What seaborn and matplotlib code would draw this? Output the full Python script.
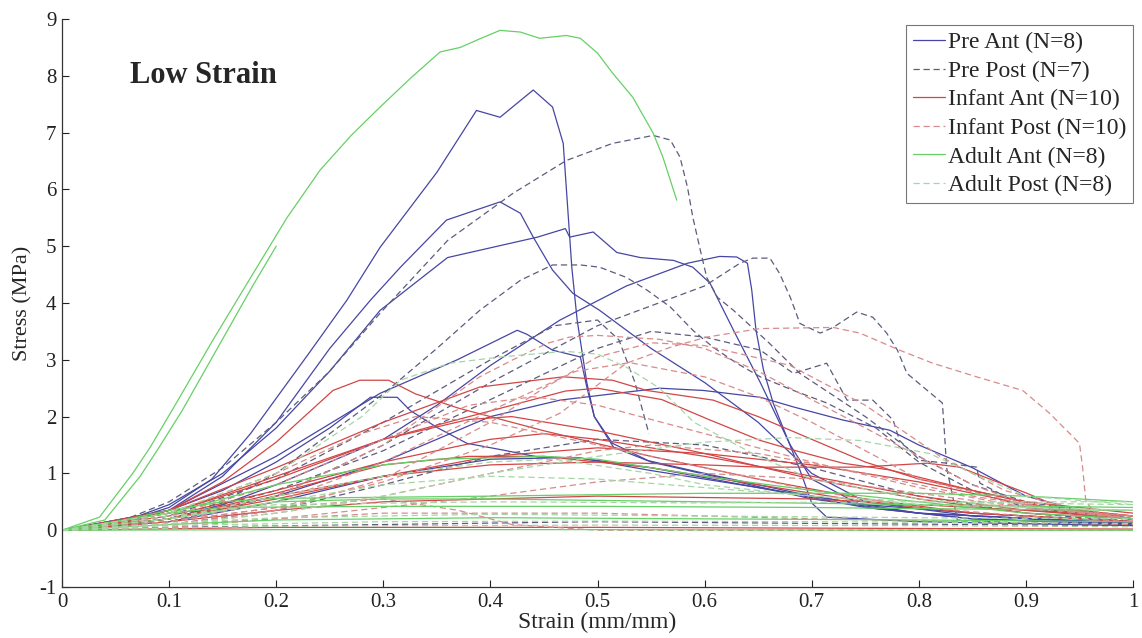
import matplotlib
matplotlib.use("Agg")
import matplotlib.pyplot as plt
import pandas as pd
import seaborn as sns

# ---- stress-strain curves, one (strain, stress) pair of lists per specimen ----
pre_ant = [
    ([0, 0.05, 0.10, 0.14, 0.176, 0.23, 0.266, 0.297, 0.35, 0.387, 0.409, 0.44, 0.458, 0.468, 0.476, 0.481, 0.49, 0.497, 0.514, 0.55, 0.62, 0.70, 0.80, 1.0],
     [0, 0.1, 0.4, 0.9, 1.7, 3.1, 4.05, 4.98, 6.3, 7.39, 7.27, 7.75, 7.45, 6.81, 4.63, 3.7, 2.6, 2.0, 1.53, 1.2, 0.9, 0.55, 0.3, 0.12]),
    ([0, 0.10, 0.15, 0.20, 0.25, 0.288, 0.316, 0.359, 0.409, 0.428, 0.44, 0.458, 0.477, 0.502, 0.55, 0.60, 0.65, 0.70, 0.75, 0.85, 1.0],
     [0, 0.35, 0.95, 1.9, 3.2, 4.05, 4.63, 5.46, 5.78, 5.58, 5.16, 4.58, 4.17, 3.87, 3.2, 2.6, 1.9, 1.0, 0.5, 0.25, 0.1]),
    ([0, 0.05, 0.10, 0.15, 0.20, 0.25, 0.297, 0.36, 0.444, 0.47, 0.474, 0.496, 0.518, 0.54, 0.571, 0.589, 0.605, 0.627, 0.652, 0.68, 0.70, 0.75, 0.85, 1.0],
     [0, 0.1, 0.45, 1.0, 1.8, 2.8, 3.87, 4.8, 5.16, 5.31, 5.16, 5.25, 4.89, 4.8, 4.75, 4.63, 4.35, 3.52, 2.6, 1.5, 0.9, 0.4, 0.2, 0.1]),
    ([0, 0.10, 0.15, 0.20, 0.25, 0.30, 0.35, 0.40, 0.465, 0.527, 0.584, 0.614, 0.63, 0.64, 0.644, 0.648, 0.655, 0.664, 0.689, 0.70, 0.714, 0.80, 1.0],
     [0, 0.2, 0.45, 0.8, 1.2, 1.6, 2.2, 2.9, 3.7, 4.3, 4.7, 4.82, 4.81, 4.7, 4.23, 3.52, 2.82, 2.24, 1.06, 0.48, 0.23, 0.15, 0.08]),
    ([0, 0.10, 0.20, 0.297, 0.369, 0.425, 0.434, 0.458, 0.484, 0.49, 0.497, 0.515, 0.546, 0.60, 0.70, 0.80, 1.0],
     [0, 0.35, 1.3, 2.41, 3.0, 3.52, 3.45, 3.17, 3.05, 2.52, 2.0, 1.46, 1.23, 1.0, 0.6, 0.3, 0.12]),
    ([0, 0.05, 0.10, 0.15, 0.20, 0.25, 0.288, 0.313, 0.325, 0.35, 0.378, 0.412, 0.444, 0.484, 0.55, 0.65, 0.75, 0.85, 1.0],
     [0, 0.1, 0.35, 0.7, 1.2, 1.8, 2.34, 2.34, 2.11, 1.81, 1.53, 1.41, 1.29, 1.27, 1.05, 0.75, 0.45, 0.3, 0.15]),
    ([0, 0.10, 0.20, 0.30, 0.35, 0.40, 0.465, 0.558, 0.599, 0.652, 0.683, 0.729, 0.773, 0.80, 0.85, 0.90, 0.95, 1.0],
     [0, 0.2, 0.6, 1.2, 1.6, 2.0, 2.29, 2.5, 2.46, 2.34, 2.17, 1.94, 1.76, 1.5, 1.1, 0.6, 0.35, 0.2]),
    ([0, 0.10, 0.20, 0.30, 0.40, 0.48, 0.55, 0.65, 0.75, 0.85, 1.0],
     [0, 0.15, 0.5, 0.95, 1.25, 1.28, 1.1, 0.75, 0.4, 0.2, 0.1]),
]

pre_post = [
    ([0, 0.05, 0.10, 0.15, 0.20, 0.25, 0.297, 0.36, 0.421, 0.471, 0.514, 0.552, 0.568, 0.577, 0.584, 0.589, 0.596, 0.602, 0.612, 0.627, 0.66, 0.689, 0.75, 0.80, 0.85, 0.90, 1.0],
     [0, 0.12, 0.5, 1.1, 1.9, 2.8, 3.82, 5.1, 5.93, 6.51, 6.81, 6.95, 6.87, 6.57, 6.04, 5.51, 4.93, 4.45, 4.1, 3.87, 3.3, 2.76, 2.0, 1.3, 0.8, 0.5, 0.2]),
    ([0, 0.10, 0.20, 0.30, 0.40, 0.50, 0.60, 0.633, 0.645, 0.661, 0.67, 0.68, 0.689, 0.708, 0.72, 0.742, 0.757, 0.77, 0.78, 0.789, 0.808, 0.822, 0.824, 0.826, 0.831, 0.836, 0.90, 1.0],
     [0, 0.15, 0.6, 1.5, 2.6, 3.6, 4.3, 4.7, 4.79, 4.79, 4.52, 4.1, 3.64, 3.47, 3.57, 3.84, 3.75, 3.47, 3.17, 2.76, 2.46, 2.24, 1.7, 1.1, 0.65, 0.18, 0.12, 0.1]),
    ([0, 0.10, 0.15, 0.20, 0.25, 0.30, 0.35, 0.39, 0.428, 0.458, 0.484, 0.502, 0.527, 0.546, 0.568, 0.589, 0.608, 0.63, 0.652, 0.683, 0.714, 0.76, 0.80, 0.85, 0.90, 1.0],
     [0, 0.2, 0.5, 1.0, 1.7, 2.4, 3.2, 3.87, 4.4, 4.67, 4.67, 4.63, 4.45, 4.23, 3.93, 3.52, 3.22, 2.94, 2.7, 2.46, 2.24, 1.8, 1.2, 0.7, 0.4, 0.2]),
    ([0, 0.10, 0.20, 0.30, 0.40, 0.46, 0.50, 0.52, 0.535, 0.548],
     [0, 0.25, 0.9, 1.9, 3.0, 3.6, 3.7, 3.35, 2.6, 1.7]),
    ([0, 0.10, 0.20, 0.30, 0.40, 0.50, 0.55, 0.60, 0.652, 0.683, 0.714, 0.733, 0.757, 0.776, 0.782, 0.801, 0.826, 0.854, 0.857, 0.90, 1.0],
     [0, 0.2, 0.7, 1.4, 2.3, 3.2, 3.5, 3.4, 3.17, 2.76, 2.94, 2.29, 2.29, 1.94, 1.58, 1.23, 1.18, 1.11, 0.83, 0.4, 0.15]),
    ([0, 0.10, 0.20, 0.30, 0.40, 0.50, 0.60, 0.70, 0.80, 0.90, 1.0],
     [0, 0.1, 0.35, 0.8, 1.3, 1.6, 1.5, 1.1, 0.6, 0.3, 0.15]),
    ([0, 0.10, 0.30, 0.50, 0.70, 1.0],
     [0, 0.05, 0.1, 0.15, 0.12, 0.08]),
]

infant_ant = [
    ([0, 0.05, 0.10, 0.15, 0.20, 0.253, 0.278, 0.305, 0.33, 0.37, 0.45, 0.55, 0.65, 0.75, 0.85, 1.0],
     [0, 0.1, 0.35, 0.85, 1.55, 2.46, 2.64, 2.64, 2.4, 2.15, 1.75, 1.3, 0.9, 0.55, 0.3, 0.15]),
    ([0, 0.10, 0.20, 0.30, 0.39, 0.468, 0.514, 0.546, 0.608, 0.65, 0.70, 0.75, 0.80, 0.90, 1.0],
     [0, 0.35, 1.1, 1.9, 2.52, 2.7, 2.64, 2.46, 2.29, 2.0, 1.6, 1.2, 0.9, 0.5, 0.3]),
    ([0, 0.10, 0.20, 0.30, 0.40, 0.50, 0.60, 0.652, 0.745, 0.808, 0.838, 0.869, 0.901, 0.932, 0.963, 1.0],
     [0, 0.2, 0.6, 0.95, 1.15, 1.2, 1.15, 1.11, 1.11, 1.18, 1.11, 0.88, 0.65, 0.4, 0.3, 0.18]),
    ([0, 0.10, 0.20, 0.30, 0.40, 0.45, 0.50, 0.60, 0.70, 0.80, 0.90, 1.0],
     [0, 0.25, 0.7, 1.2, 1.6, 1.7, 1.6, 1.3, 0.95, 0.6, 0.35, 0.2]),
    ([0, 0.10, 0.20, 0.30, 0.40, 0.47, 0.50, 0.56, 0.605, 0.652, 0.683, 0.729, 0.773, 0.85, 0.92, 1.0],
     [0, 0.3, 0.9, 1.6, 2.1, 2.45, 2.5, 2.3, 1.94, 1.58, 1.41, 1.18, 1.06, 0.7, 0.4, 0.25]),
    ([0, 0.10, 0.20, 0.30, 0.38, 0.42, 0.50, 0.60, 0.70, 0.80, 0.90, 1.0],
     [0, 0.3, 0.95, 1.6, 1.95, 2.0, 1.75, 1.35, 0.9, 0.55, 0.3, 0.2]),
    ([0, 0.10, 0.20, 0.30, 0.38, 0.45, 0.55, 0.65, 0.75, 0.85, 1.0],
     [0, 0.2, 0.65, 1.15, 1.3, 1.3, 1.1, 0.8, 0.5, 0.3, 0.15]),
    ([0, 0.10, 0.20, 0.30, 0.50, 0.70, 0.85, 1.0],
     [0, 0.15, 0.35, 0.5, 0.6, 0.55, 0.4, 0.25]),
    ([0, 0.10, 0.20, 0.30, 0.40, 0.50, 0.60, 0.70, 0.80, 0.90, 1.0],
     [0, 0.2, 0.55, 0.95, 1.3, 1.45, 1.35, 1.15, 0.85, 0.45, 0.25]),
    ([0, 0.20, 0.50, 0.80, 1.0],
     [0, 0.05, 0.05, 0.03, 0.02]),
]

infant_post = [
    ([0, 0.10, 0.20, 0.30, 0.40, 0.465, 0.527, 0.568, 0.602, 0.652, 0.72, 0.745, 0.782, 0.813, 0.854, 0.897, 0.922, 0.95, 0.953, 0.956, 0.965, 1.0],
     [0, 0.15, 0.4, 0.85, 1.5, 2.06, 2.94, 3.22, 3.4, 3.55, 3.57, 3.47, 3.17, 2.94, 2.7, 2.46, 2.06, 1.53, 1.1, 0.5, 0.3, 0.2]),
    ([0, 0.10, 0.20, 0.30, 0.39, 0.421, 0.453, 0.474, 0.50, 0.558, 0.60, 0.65, 0.70, 0.75, 0.80, 0.85, 0.90, 1.0],
     [0, 0.2, 0.6, 1.5, 2.7, 3.0, 3.29, 3.4, 3.43, 3.36, 3.2, 2.8, 2.3, 1.8, 1.3, 0.8, 0.45, 0.2]),
    ([0, 0.10, 0.20, 0.30, 0.40, 0.48, 0.53, 0.60, 0.65, 0.70, 0.75, 0.80, 0.90, 1.0],
     [0, 0.15, 0.5, 1.2, 2.1, 2.8, 2.95, 2.7, 2.35, 1.9, 1.4, 0.9, 0.45, 0.2]),
    ([0, 0.10, 0.20, 0.30, 0.38, 0.44, 0.50, 0.60, 0.70, 0.80, 0.90, 1.0],
     [0, 0.25, 0.8, 1.6, 2.2, 2.35, 2.2, 1.7, 1.2, 0.75, 0.4, 0.2]),
    ([0, 0.10, 0.20, 0.30, 0.37, 0.42, 0.50, 0.70, 1.0],
     [0, 0.15, 0.4, 0.55, 0.35, 0.1, 0.0, 0.0, 0.0]),
    ([0, 0.10, 0.20, 0.30, 0.40, 0.50, 0.55, 0.65, 0.75, 0.85, 0.95, 1.0],
     [0, 0.1, 0.3, 0.6, 1.0, 1.4, 1.5, 1.35, 1.0, 0.6, 0.3, 0.2]),
    ([0, 0.10, 0.20, 0.28, 0.33, 0.40, 0.50, 0.60, 0.70, 0.80, 0.90, 1.0],
     [0, 0.3, 1.0, 1.7, 2.0, 1.9, 1.5, 1.1, 0.7, 0.4, 0.25, 0.15]),
    ([0, 0.10, 0.20, 0.30, 0.40, 0.50, 0.60, 0.70, 0.80, 0.90, 1.0],
     [0, 0.05, 0.2, 0.4, 0.6, 0.85, 1.0, 0.9, 0.65, 0.4, 0.25]),
    ([0, 0.10, 0.20, 0.30, 0.50, 0.70, 1.0],
     [0, 0.1, 0.2, 0.3, 0.3, 0.2, 0.1]),
    ([0, 0.10, 0.20, 0.30, 0.40, 0.45, 0.50, 0.55, 0.60, 0.68, 0.75, 0.82, 0.88, 0.95, 1.0],
     [0, 0.1, 0.35, 0.9, 1.9, 2.5, 3.05, 3.3, 3.25, 2.9, 2.2, 1.3, 0.7, 0.35, 0.25]),
]

adult_ant = [
    ([0, 0.035, 0.066, 0.082, 0.104, 0.141, 0.173, 0.21, 0.241, 0.27, 0.297, 0.325, 0.353, 0.372, 0.39, 0.409, 0.428, 0.446, 0.471, 0.484, 0.50, 0.514, 0.533, 0.552, 0.561, 0.574],
     [0, 0.23, 1.0, 1.45, 2.15, 3.35, 4.35, 5.5, 6.34, 6.95, 7.45, 7.95, 8.42, 8.5, 8.65, 8.8, 8.77, 8.66, 8.71, 8.66, 8.4, 8.05, 7.62, 6.99, 6.57, 5.81]),
    ([0, 0.04, 0.073, 0.089, 0.112, 0.148, 0.178, 0.20],
     [0, 0.18, 0.95, 1.41, 2.1, 3.3, 4.3, 5.0]),
    ([0, 0.10, 0.20, 0.30, 0.35, 0.45, 0.50, 0.55, 0.60, 0.70, 0.80, 0.90, 1.0],
     [0, 0.3, 0.8, 1.15, 1.25, 1.3, 1.25, 1.1, 0.95, 0.7, 0.5, 0.3, 0.2]),
    ([0, 0.05, 0.10, 0.15, 0.20, 0.40, 0.60, 0.80, 0.90, 1.0],
     [0, 0.15, 0.35, 0.5, 0.56, 0.6, 0.65, 0.65, 0.6, 0.5]),
    ([0, 0.05, 0.10, 0.15, 0.30, 0.50, 0.70, 0.80, 1.0],
     [0, 0.15, 0.3, 0.4, 0.42, 0.42, 0.4, 0.38, 0.35]),
    ([0, 0.10, 0.20, 0.40, 0.60, 0.80, 1.0],
     [0, 0.1, 0.18, 0.22, 0.2, 0.18, 0.15]),
    ([0, 0.20, 0.50, 0.80, 1.0],
     [0, 0.01, 0.01, 0.0, 0.0]),
    ([0, 0.10, 0.20, 0.30, 0.40, 0.60, 0.80, 1.0],
     [0, 0.2, 0.5, 0.55, 0.55, 0.5, 0.45, 0.4]),
]

adult_post = [
    ([0, 0.10, 0.20, 0.28, 0.316, 0.362, 0.409, 0.47, 0.50, 0.527, 0.558, 0.59, 0.65, 0.70, 0.80, 0.90, 1.0],
     [0, 0.3, 1.0, 2.0, 2.64, 2.94, 3.05, 3.15, 3.1, 2.87, 2.5, 1.9, 1.3, 0.9, 0.55, 0.4, 0.35]),
    ([0, 0.10, 0.20, 0.30, 0.40, 0.50, 0.60, 0.68, 0.745, 0.81, 0.85, 0.90, 1.0],
     [0, 0.1, 0.3, 0.6, 1.0, 1.3, 1.55, 1.63, 1.58, 1.35, 1.0, 0.6, 0.45]),
    ([0, 0.10, 0.20, 0.30, 0.40, 0.46, 0.55, 0.60, 0.70, 0.80, 1.0],
     [0, 0.2, 0.6, 0.95, 1.2, 1.25, 1.0, 0.8, 0.6, 0.45, 0.35]),
    ([0, 0.10, 0.20, 0.30, 0.40, 0.50, 0.60, 0.70, 0.80, 1.0],
     [0, 0.2, 0.5, 0.8, 0.95, 0.9, 0.75, 0.6, 0.5, 0.45]),
    ([0, 0.10, 0.20, 0.40, 0.60, 0.80, 1.0],
     [0, 0.12, 0.22, 0.28, 0.25, 0.22, 0.2]),
    ([0, 0.10, 0.30, 0.50, 0.70, 1.0],
     [0, 0.08, 0.15, 0.16, 0.15, 0.12]),
    ([0, 0.20, 0.50, 0.80, 1.0],
     [0, 0.07, 0.09, 0.08, 0.06]),
    ([0, 0.10, 0.20, 0.40, 0.60, 0.80, 1.0],
     [0, 0.25, 0.45, 0.5, 0.48, 0.5, 0.5]),
]

group_names = ["Pre Ant", "Pre Post", "Infant Ant", "Infant Post", "Adult Ant", "Adult Post"]
group_curves = [pre_ant, pre_post, infant_ant, infant_post, adult_ant, adult_post]
group_colors = ["#4646a4", "#5c5c7e", "#d24646", "#d98a8a", "#66d066", "#a6d6a6"]
group_dashed = [False, True, False, True, False, True]

# ---- long-form table: one row per sampled point ----
records = []
labels = []
for name, curves in zip(group_names, group_curves):
    label = f"{name} (N={len(curves)})"
    labels.append(label)
    for k, (strain, stress) in enumerate(curves):
        for s, t in zip(strain, stress):
            records.append({"group": label, "specimen": f"{name}-{k}",
                            "strain": s, "stress": t})
df = pd.DataFrame(records)

palette = dict(zip(labels, group_colors))
dashes = {lab: ((5, 3) if d else "") for lab, d in zip(labels, group_dashed)}

sns.set_style("ticks")
plt.rcParams["font.family"] = ["Liberation Serif", "DejaVu Serif"]
plt.rcParams["axes.unicode_minus"] = False

fig = plt.figure(figsize=(11.42, 6.38), dpi=100)
ax = fig.add_axes([62 / 1142, 51 / 638, 1071 / 1142, 568 / 638])

sns.lineplot(data=df, x="strain", y="stress", hue="group", style="group",
             units="specimen", estimator=None, sort=False,
             palette=palette, dashes=dashes, hue_order=labels,
             linewidth=0.9, ax=ax, legend=True)

ax.set_xlim(0, 1)
ax.set_ylim(-1, 9)
xt = [0, 0.1, 0.2, 0.3, 0.4, 0.5, 0.6, 0.7, 0.8, 0.9, 1.0]
ax.set_xticks(xt)
ax.set_xticklabels(["0", "0.1", "0.2", "0.3", "0.4", "0.5", "0.6", "0.7", "0.8", "0.9", "1"])
ax.set_yticks(range(-1, 10))
ax.tick_params(direction="in", length=5, width=0.8, labelsize=15, colors="#222222",
               pad=4)
for sp in ("top", "right"):
    ax.spines[sp].set_visible(False)
for sp in ("left", "bottom"):
    ax.spines[sp].set_color("#333333")
    ax.spines[sp].set_linewidth(0.9)

ax.set_xlabel("Strain (mm/mm)", fontsize=17, labelpad=0)
ax.set_ylabel("Stress (MPa)", fontsize=16, labelpad=5)

ax.text(0.0635, 0.901, "Low Strain", transform=ax.transAxes, fontsize=22,
        fontweight="bold", va="center", ha="left")

handles, labs = ax.get_legend_handles_labels()
pairs = [(h, l) for h, l in zip(handles, labs) if l in labels]
leg = ax.legend([p[0] for p in pairs], [p[1] for p in pairs],
                loc="upper right", bbox_to_anchor=(1.0, 0.99), fontsize=17,
                frameon=True, fancybox=False, edgecolor="#555555",
                handlelength=1.35, handletextpad=0.12, labelspacing=0.3,
                borderpad=0.3, borderaxespad=0.0)
leg.get_frame().set_linewidth(0.8)
for ln in leg.get_lines():
    ln.set_linewidth(0.9)

fig.savefig("out.png", dpi=100, facecolor="white")
